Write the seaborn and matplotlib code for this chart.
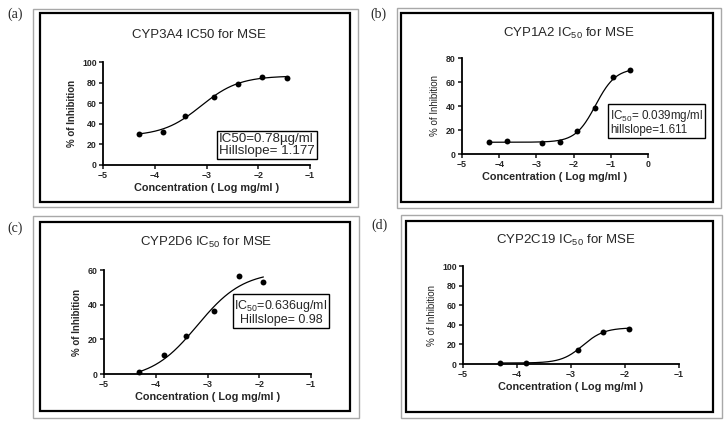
import numpy as np
import pandas as pd
import matplotlib
matplotlib.use("Agg")
import matplotlib.pyplot as plt
from matplotlib.patches import Rectangle
import seaborn as sns

sns.set_style("white")
plt.rcParams["font.family"] = ["Liberation Sans", "DejaVu Sans"]
plt.rcParams["mathtext.default"] = "regular"

# ---- data (log mg/ml vs % inhibition) ----
a_x = [-4.31, -3.84, -3.41, -2.86, -2.39, -1.93, -1.44]
a_y = [30.3, 31.6, 47.4, 65.8, 78.4, 85.2, 84.8]
b_x = [-4.27, -3.79, -2.84, -2.36, -1.90, -1.42, -0.95, -0.48]
b_y = [10.3, 10.9, 9.5, 9.8, 19.3, 38.6, 63.8, 70.2]
c_x = [-4.32, -3.85, -3.42, -2.87, -2.40, -1.92]
c_y = [1.2, 11.2, 21.7, 36.5, 56.3, 53.1]
d_x = [-4.32, -3.83, -2.87, -2.40, -1.93]
d_y = [1.4, 1.0, 14.4, 32.2, 35.6]

# 4PL fit parameters: bottom, top, logIC50, hillslope
a_fit = (28.0, 86.5, -3.108, 1.177)
b_fit = (9.8, 71.5, -1.409, 1.611)
c_fit = (-3.3, 59.3, -3.197, 0.98)
d_fit = (1.0, 37.0, -2.78, 2.2)

titles = ["CYP3A4 IC50 for MSE", "CYP1A2 IC$_{50}$ for MSE",
          "CYP2D6 IC$_{50}$ for MSE", "CYP2C19 IC$_{50}$ for MSE"]
tags = ["(a)", "(b)", "(c)", "(d)"]
notes = ["IC50=0.78\u00b5g/ml\nHillslope= 1.177",
         "IC$_{50}$= 0.039mg/ml\nhillslope=1.611",
         "IC$_{50}$=0.636ug/ml\nHillslope= 0.98",
         None]
xlims = [(-5, -1), (-5, 0), (-5, -1), (-5, -1)]
ylims = [(0, 100), (0, 80), (0, 60), (0, 100)]
yticks = [[0, 20, 40, 60, 80, 100], [0, 20, 40, 60, 80], [0, 20, 40, 60],
          [0, 20, 40, 60, 80, 100]]

W, H = 728, 425


def fpl(x, p):
    bot, top, logic, hill = p
    return bot + (top - bot) / (1 + 10 ** ((logic - x) * hill))


fig = plt.figure(figsize=(7.28, 4.25), dpi=100)

# panel boxes in pixels: grey (x0, y0, x1, y1), black (x0, y0, x1, y1)
grey = [(33, 9, 358, 207), (397, 8, 721, 208), (33, 216, 359, 418), (401, 215, 722, 418)]
black = [(40, 13, 350, 202), (401, 13, 713, 202), (40, 222, 350, 411), (406, 221, 713, 412)]
for (g, b) in zip(grey, black):
    fig.patches.append(Rectangle((g[0] / W, 1 - g[3] / H), (g[2] - g[0]) / W, (g[3] - g[1]) / H,
                                 transform=fig.transFigure, fill=False, ec="#a8a8a8", lw=1.0))
    fig.patches.append(Rectangle((b[0] / W, 1 - b[3] / H), (b[2] - b[0]) / W, (b[3] - b[1]) / H,
                                 transform=fig.transFigure, fill=False, ec="black", lw=1.6))

# axes in pixels: x_left, x_right, y_bottom, y_top
boxes = [(103, 310, 165, 62), (462, 648, 154, 58), (104, 311, 374, 270), (463, 679, 364, 266)]
title_pos = [(199, 35), (569, 33), (206, 242), (566, 240)]
tag_pos = [(7, 14), (370, 14), (7, 228), (371, 225)]
note_pos = [(219, 145), (610, 122), (281, 312), None]
note_ha = ["left", "left", "center", None]
note_fs = [9.6, 8.4, 9, None]
ylab_wt = ["bold", "normal", "bold", "normal"]

series = [(a_x, a_y, a_fit), (b_x, b_y, b_fit), (c_x, c_y, c_fit), (d_x, d_y, d_fit)]

for i, (xs, ys, fit) in enumerate(series):
    x0, x1, yb, yt = boxes[i]
    ax = fig.add_axes([x0 / W, 1 - yb / H, (x1 - x0) / W, (yb - yt) / H])
    ax.patch.set_alpha(0)
    df = pd.DataFrame({"conc": xs, "inh": ys})
    xx = np.linspace(min(xs), max(xs), 200)
    curve = pd.DataFrame({"conc": xx, "inh": fpl(xx, fit)})
    sns.lineplot(data=curve, x="conc", y="inh", ax=ax, color="black", lw=0.9)
    sns.scatterplot(data=df, x="conc", y="inh", ax=ax, color="black", s=18,
                    edgecolor="black", linewidth=0, zorder=3, clip_on=False)
    ax.set_xlim(*xlims[i])
    ax.set_ylim(*ylims[i])
    ax.set_xticks(range(xlims[i][0], xlims[i][1] + 1))
    ax.set_yticks(yticks[i])
    for s in ["top", "right"]:
        ax.spines[s].set_visible(False)
    for s in ["left", "bottom"]:
        ax.spines[s].set_linewidth(1.3)
        ax.spines[s].set_color("black")
    ax.tick_params(direction="out", length=3, width=1.2, pad=1.5, labelsize=6.3,
                   left=True, bottom=True)
    for lab in ax.get_xticklabels() + ax.get_yticklabels():
        lab.set_fontweight("bold")
    ax.set_xlabel("Concentration ( Log mg/ml )", fontsize=7.8, fontweight="bold", labelpad=2)
    ax.set_ylabel("% of Inhibition", fontsize=7, fontweight=ylab_wt[i],
                  family=["Liberation Sans Narrow", "Liberation Sans"], labelpad=4)

    tx, ty = title_pos[i]
    fig.text(tx / W, 1 - ty / H, titles[i], ha="center", va="center", fontsize=9.5)
    gx, gy = tag_pos[i]
    fig.text(gx / W, 1 - gy / H, tags[i], ha="left", va="center", fontsize=10,
             family=["Liberation Serif", "DejaVu Serif"])
    if notes[i]:
        nx, ny = note_pos[i]
        fig.text(nx / W, 1 - ny / H, notes[i], ha=note_ha[i], va="center", fontsize=note_fs[i],
                 multialignment=note_ha[i], linespacing=1.0,
                 bbox=dict(boxstyle="square,pad=0.15", fc="white", ec="black", lw=1.0))

plt.savefig("out.png", dpi=100)
